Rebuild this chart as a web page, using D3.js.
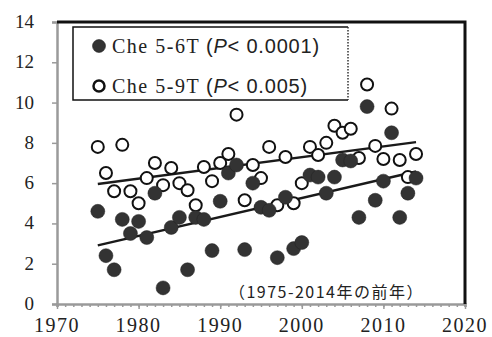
<!DOCTYPE html>
<html>
<head>
<meta charset="utf-8">
<script src="https://cdn.jsdelivr.net/npm/d3@7"></script>
<style>
  body { margin: 0; background: #fff; }
  svg { display: block; }
</style>
</head>
<body>
<div id="chart"></div>
<script>
// years and values
const years = d3.range(1975, 2015);
const che56 = [4.6, 2.4, 1.7, 4.2, 3.5, 4.1, 3.3, 5.5, 0.8, 3.8,
  4.3, 1.7, 4.3, 4.2, 2.65, 5.1, 6.5, 6.9, 2.7, 6.0,
  4.8, 4.65, 2.3, 5.3, 2.75, 3.05, 6.4, 6.3, 5.5, 6.3,
  7.15, 7.1, 4.3, 9.8, 5.15, 6.1, 8.5, 4.3, 5.5, 6.25];
const che59 = [7.8, 6.5, 5.6, 7.9, 5.6, 5.0, 6.25, 7.0, 5.9, 6.75,
  6.0, 5.65, 4.9, 6.8, 6.1, 7.0, 7.45, 9.4, 5.15, 6.9,
  6.25, 7.8, 4.9, 7.3, 5.0, 6.0, 7.8, 7.4, 8.0, 8.85,
  8.5, 8.7, 7.25, 10.9, 7.85, 7.2, 9.7, 7.15, 6.3, 7.45];
const yTicks = [0, 2, 4, 6, 8, 10, 12, 14];
const xTicks = [1970, 1980, 1990, 2000, 2010, 2020];
const legendNames = ['Che 5-6T', 'Che 5-9T'];
const legendP = ['< 0.0001)', '< 0.005)'];
const note = '（1975-2014年の前年）';

const width = 492, height = 337;
const svg = d3.select('#chart').append('svg')
  .attr('width', width).attr('height', height);

const x = d3.scaleLinear().domain([1970, 2020]).range([57, 465]);
const y = d3.scaleLinear().domain([0, 14]).range([304, 22]);

// simple least squares fit
function fit(xs, ys) {
  const mx = d3.mean(xs), my = d3.mean(ys);
  let sxy = 0, sxx = 0;
  xs.forEach((v, i) => { sxy += (v - mx) * (ys[i] - my); sxx += (v - mx) * (v - mx); });
  const b = sxy / sxx;
  return t => my + b * (t - mx);
}

const gray = '#9a9a9a';

// left axis
svg.append('g')
  .attr('transform', `translate(${x(1970)},0)`)
  .call(d3.axisLeft(y).tickValues(yTicks).tickSize(5).tickFormat(''))
  .call(g => g.select('.domain').attr('stroke', gray).attr('stroke-width', 2.5))
  .call(g => g.selectAll('.tick line').attr('stroke', gray).attr('stroke-width', 1.5));

svg.append('g').selectAll('text')
  .data(yTicks).enter().append('text')
  .attr('x', 34).attr('y', d => y(d) + 6)
  .attr('text-anchor', 'end')
  .style('font-family', '"Liberation Serif", "DejaVu Serif", serif')
  .style('font-size', '19px')
  .style('fill', '#222')
  .text(d => d);

// bottom axis: minor ticks per year and decade ticks
svg.append('g')
  .attr('transform', `translate(0,${y(0)})`)
  .call(d3.axisBottom(x).tickValues(d3.range(1970, 2021)).tickSize(3).tickFormat(''))
  .call(g => g.select('.domain').attr('stroke', gray).attr('stroke-width', 2.5))
  .call(g => g.selectAll('.tick line').attr('stroke', gray).attr('stroke-width', 1.5));

svg.append('g')
  .attr('transform', `translate(0,${y(0)})`)
  .call(d3.axisBottom(x).tickValues(xTicks).tickSize(5).tickFormat(''))
  .call(g => g.select('.domain').remove())
  .call(g => g.selectAll('.tick line').attr('stroke', gray).attr('stroke-width', 1.5));

svg.append('g').selectAll('text')
  .data(xTicks).enter().append('text')
  .attr('x', d => x(d)).attr('y', 332)
  .attr('text-anchor', 'middle')
  .style('font-family', '"Liberation Serif", "DejaVu Serif", serif')
  .style('font-size', '20px')
  .style('letter-spacing', '1.5px')
  .style('fill', '#222')
  .text(d => d);

// top and right frame
svg.append('path')
  .attr('d', `M${x(1970)},${y(14)}H${x(2020)}V${y(0)}`)
  .attr('fill', 'none').attr('stroke', '#111').attr('stroke-width', 3);

// trend lines
[che56, che59].forEach(vals => {
  const f = fit(years, vals);
  svg.append('line')
    .attr('x1', x(1975)).attr('y1', y(f(1975)))
    .attr('x2', x(2014)).attr('y2', y(f(2014)))
    .attr('stroke', '#1a1a1a').attr('stroke-width', 2.5);
});

// points
svg.append('g').selectAll('circle')
  .data(years.map((yr, i) => [yr, che59[i]]))
  .enter().append('circle')
  .attr('cx', d => x(d[0])).attr('cy', d => y(d[1]))
  .attr('r', 6)
  .attr('fill', '#fff').attr('stroke', '#111').attr('stroke-width', 2);

svg.append('g').selectAll('circle')
  .data(years.map((yr, i) => [yr, che56[i]]))
  .enter().append('circle')
  .attr('cx', d => x(d[0])).attr('cy', d => y(d[1]))
  .attr('r', 7)
  .attr('fill', '#333').attr('stroke', '#222').attr('stroke-width', 0.5);

// legend
const lg = svg.append('g');
lg.append('rect')
  .attr('x', 73).attr('y', 27).attr('width', 275).attr('height', 73)
  .attr('fill', '#fff').attr('stroke', 'none');
lg.append('path')
  .attr('d', 'M348,27H73V100H348')
  .attr('fill', 'none').attr('stroke', '#111').attr('stroke-width', 1.5);
lg.append('line')
  .attr('x1', 348).attr('y1', 27).attr('x2', 348).attr('y2', 100)
  .attr('stroke', '#333').attr('stroke-width', 1.5).attr('stroke-dasharray', '1.5,1.5');

legendNames.forEach((name, i) => {
  const cy = 46 + i * 40;
  lg.append('circle')
    .attr('cx', 99).attr('cy', cy).attr('r', i === 0 ? 6.5 : 5.5)
    .attr('fill', i === 0 ? '#333' : '#fff')
    .attr('stroke', '#111').attr('stroke-width', i === 0 ? 0.5 : 2.5);
  lg.append('text')
    .attr('x', 112).attr('y', cy + 7)
    .style('font-family', '"Liberation Serif", "DejaVu Serif", serif')
    .style('font-size', '20px')
    .style('letter-spacing', '1.5px')
    .style('fill', '#222')
    .text(name);
  const t = lg.append('text')
    .attr('x', 206).attr('y', cy + 7)
    .style('font-family', '"Liberation Sans", Arial, sans-serif')
    .style('font-size', '20px')
    .style('letter-spacing', '0.8px')
    .style('fill', '#222');
  t.append('tspan').text('(');
  t.append('tspan').style('font-style', 'italic').text('P');
  t.append('tspan').text(legendP[i]);
});

// period note
svg.append('text')
  .attr('x', 424).attr('y', 298)
  .attr('text-anchor', 'end')
  .style('font-family', '"Noto Sans CJK JP", sans-serif')
  .style('font-size', '16px')
  .style('letter-spacing', '1.5px')
  .style('fill', '#222')
  .text(note);
</script>
</body>
</html>
